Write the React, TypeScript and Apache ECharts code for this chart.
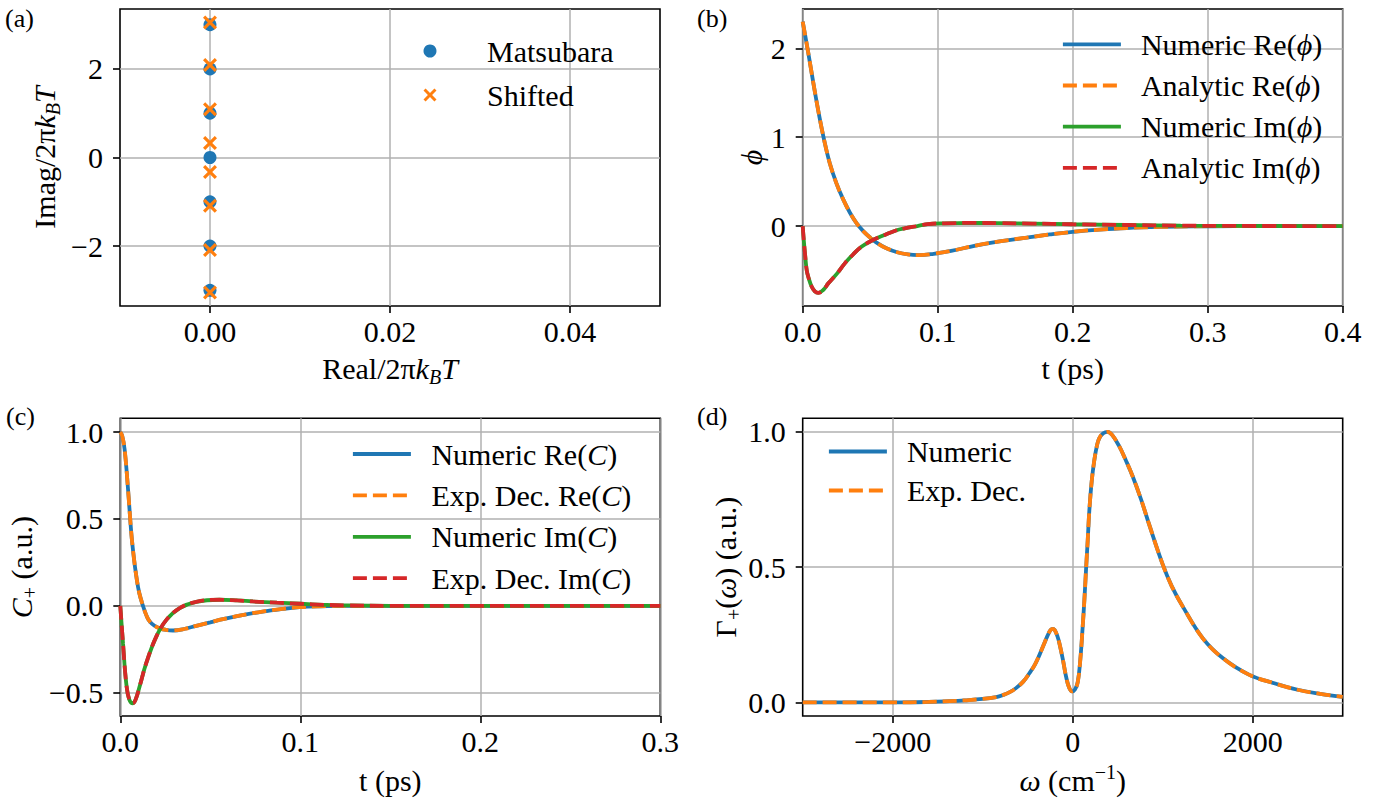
import React, { useEffect, useRef } from 'react';
import * as echarts from 'echarts';

const FONT = 'Liberation Serif, DejaVu Serif, Noto Serif, serif';
const FS = 30;
const BLUE = '#1f77b4';
const ORANGE = '#ff7f0e';
const GREEN = '#2ca02c';
const RED = '#d62728';

// (a) poles of the bath correlation function
const poleReal = 0;
const matsubaraImag = [-3, -2, -1, 0, 1, 2, 3];
const shiftedImag = [-3.05, -2.09, -1.09, -0.33, 0.33, 1.09, 2.09, 3.05];

// (b) phi(t)
const phiReT = [0, 0.004, 0.008, 0.012, 0.016, 0.02, 0.025, 0.03, 0.035, 0.04, 0.045, 0.05, 0.055, 0.062, 0.07, 0.078, 0.086, 0.097, 0.11, 0.128, 0.147, 0.166, 0.183, 0.2, 0.22, 0.24, 0.265, 0.29, 0.32, 0.4];
const phiReV = [2.3, 1.96, 1.6, 1.26, 0.96, 0.71, 0.48, 0.3, 0.15, 0.03, -0.06, -0.13, -0.19, -0.25, -0.295, -0.32, -0.327, -0.312, -0.28, -0.22, -0.17, -0.13, -0.095, -0.065, -0.04, -0.022, -0.01, -0.004, 0, 0];
const phiImT = [0, 0.0008, 0.0017, 0.003, 0.0045, 0.0066, 0.009, 0.0115, 0.0152, 0.019, 0.0257, 0.0312, 0.0373, 0.0435, 0.051, 0.0607, 0.069, 0.0755, 0.085, 0.0926, 0.105, 0.125, 0.145, 0.17, 0.2, 0.24, 0.28, 0.32, 0.4];
const phiImV = [0, -0.16, -0.31, -0.5, -0.59, -0.68, -0.735, -0.752, -0.72, -0.645, -0.53, -0.42, -0.32, -0.233, -0.165, -0.1, -0.05, -0.026, 0, 0.022, 0.031, 0.035, 0.033, 0.028, 0.02, 0.012, 0.005, 0.001, 0];

// (c) C+(t)
const cReT = [0, 0.001, 0.0024, 0.0043, 0.0061, 0.0075, 0.0089, 0.0105, 0.0126, 0.0145, 0.0163, 0.019, 0.0219, 0.0255, 0.0293, 0.036, 0.0422, 0.05, 0.057, 0.067, 0.079, 0.09, 0.0996, 0.11, 0.125, 0.3];
const cReV = [1.0, 0.98, 0.9, 0.67, 0.42, 0.28, 0.17, 0.075, 0, -0.055, -0.09, -0.115, -0.13, -0.139, -0.142, -0.132, -0.115, -0.095, -0.077, -0.055, -0.033, -0.018, -0.008, -0.003, 0, 0];
const cImT = [0, 0.0015, 0.0033, 0.005, 0.007, 0.0085, 0.0107, 0.0144, 0.02, 0.0256, 0.033, 0.0422, 0.055, 0.065, 0.0737, 0.087, 0.1, 0.113, 0.126, 0.15, 0.3];
const cImV = [0, -0.215, -0.446, -0.54, -0.561, -0.54, -0.465, -0.33, -0.177, -0.081, -0.013, 0.023, 0.035, 0.031, 0.025, 0.018, 0.012, 0.006, 0.002, 0, 0];

// (d) Gamma+(omega)
const gammaW = [-3000, -2000, -1600, -1370, -1200, -1000, -850, -778, -700, -630, -550, -481, -420, -370, -320, -278, -245, -222, -200, -170, -148, -110, -74, -40, -7, 25, 56, 85, 111, 130, 148, 167, 185, 212, 241, 270, 296, 340, 389, 440, 518, 590, 667, 760, 852, 1000, 1100, 1222, 1444, 1667, 1963, 2250, 2500, 2750, 3000];
const gammaV = [0, 0, 0.002, 0.005, 0.008, 0.013, 0.02, 0.027, 0.038, 0.053, 0.077, 0.108, 0.14, 0.175, 0.215, 0.248, 0.268, 0.272, 0.268, 0.245, 0.219, 0.16, 0.096, 0.055, 0.041, 0.048, 0.075, 0.16, 0.28, 0.38, 0.49, 0.6, 0.71, 0.82, 0.897, 0.95, 0.977, 0.995, 1.0, 0.988, 0.946, 0.895, 0.835, 0.75, 0.655, 0.51, 0.43, 0.355, 0.238, 0.164, 0.102, 0.07, 0.047, 0.032, 0.021];

// tick values
const ticksAx = [0, 0.02, 0.04];
const ticksAy = [-2, 0, 2];
const ticksBx = [0, 0.1, 0.2, 0.3, 0.4];
const ticksBy = [0, 1, 2];
const ticksCx = [0, 0.1, 0.2, 0.3];
const ticksCy = [-0.5, 0, 0.5, 1.0];
const ticksDx = [-2000, 0, 2000];
const ticksDy = [0, 0.5, 1.0];

const zip = (xs: number[], ys: number[]) => xs.map((x, i) => [x, ys[i]]);

const fmt = (dec: number) => (v: number) => {
  const s = Math.abs(v).toFixed(dec);
  return (v < -1e-12 ? '\u2212' : '') + s;
};

const rich = {
  i: { fontStyle: 'italic', fontFamily: FONT, fontSize: FS, lineHeight: 30, color: '#000' },
  sub: { fontFamily: FONT, fontSize: 20, height: 12, verticalAlign: 'bottom', color: '#000' },
  isub: { fontFamily: FONT, fontStyle: 'italic', fontSize: 20, height: 12, verticalAlign: 'bottom', color: '#000' },
  sup: { fontFamily: FONT, fontSize: 20, height: 14, verticalAlign: 'top', color: '#000' },
};

const nameStyle = { fontFamily: FONT, fontSize: FS, lineHeight: 30, color: '#000', rich };

const common = (ticks: number[], dec: number, margin: number) => ({
  type: 'value',
  axisLine: { show: false, onZero: false },
  axisTick: { show: true, inside: false, length: 7, lineStyle: { color: '#000', width: 1.6 }, customValues: ticks },
  axisLabel: { customValues: ticks, formatter: fmt(dec), fontFamily: FONT, fontSize: FS, color: '#000', margin },
  splitLine: { show: true, lineStyle: { color: '#b0b0b0', width: 1.5 } },
  nameLocation: 'middle',
  nameTextStyle: nameStyle,
});

const mkX = (gi: number, min: number, max: number, ticks: number[], dec: number, name: string, gap: number) => ({
  ...common(ticks, dec, 10), gridIndex: gi, min, max, name, nameGap: gap,
});
const mkY = (gi: number, min: number, max: number, ticks: number[], dec: number, name: string, gap: number) => ({
  ...common(ticks, dec, 17), gridIndex: gi, min, max, name, nameGap: gap,
});

const solid = (name: string, gi: number, data: number[][], color: string) => ({
  type: 'line', name, xAxisIndex: gi, yAxisIndex: gi, data, symbol: 'none', showSymbol: false,
  smooth: 0.4, silent: true, color,
  lineStyle: { width: 3.8, color, type: 'solid' },
  itemStyle: { color },
});
const dashed = (name: string, gi: number, data: number[][], color: string) => ({
  ...solid(name, gi, data, color),
  lineStyle: { width: 3.8, color, type: [14, 6] },
});

const legendText = (pad: number) => ({
  fontFamily: FONT, fontSize: FS, lineHeight: 30, color: '#000', padding: [0, 0, 0, pad],
  rich: { i: { fontStyle: 'italic', fontFamily: FONT, fontSize: FS, lineHeight: 30, color: '#000' } },
});
const legendFmt = (n: string) => n.replace('\u03d5', '{i|\u03d5}').replace('(C)', '({i|C})');

const crossPath = 'path://M0,16L16,0L50,34L84,0L100,16L66,50L100,84L84,100L50,66L16,100L0,84L34,50Z';

const grids = [
  { left: 120, top: 9, width: 540, height: 297 },
  { left: 802.7, top: 9, width: 540, height: 297 },
  { left: 120.3, top: 418.3, width: 540, height: 297.7 },
  { left: 802.7, top: 418.3, width: 540, height: 297.7 },
].map((g) => ({ ...g, show: true, borderColor: '#000', borderWidth: 1.6, backgroundColor: 'transparent', containLabel: false, outerBoundsMode: 'none' }));

const lineLegend = { itemStyle: { opacity: 0 }, lineStyle: { width: 3.8 } };

const option = {
  animation: false,
  backgroundColor: '#fff',
  textStyle: { fontFamily: FONT },
  grid: grids,
  xAxis: [
    mkX(0, -0.01, 0.05, ticksAx, 2, 'Real/2\u03c0{i|k}{isub|B}{i|T}', 47),
    mkX(1, 0, 0.4, ticksBx, 1, 't (ps)', 47),
    mkX(2, 0, 0.3, ticksCx, 1, 't (ps)', 49),
    mkX(3, -3000, 3000, ticksDx, 0, '{i|\u03c9} (cm{sup|\u22121})', 49),
  ],
  yAxis: [
    mkY(0, -3.355, 3.355, ticksAy, 0, 'Imag/2\u03c0{i|k}{isub|B}{i|T}', 61),
    mkY(1, -0.9, 2.443, ticksBy, 0, '{i|\u03d5}', 35),
    mkY(2, -0.634, 1.079, ticksCy, 1, '{i|C}{sub|+} (a.u.)', 84),
    mkY(3, -0.05, 1.05, ticksDy, 1, '\u0393{sub|+}({i|\u03c9}) (a.u.)', 59),
  ],
  legend: [
    { data: ['Matsubara', 'Shifted'], left: 423.5, top: 36, itemGap: 14, textStyle: legendText(23), itemHeight: 13, itemStyle: { opacity: 1 } },
    { data: ['Numeric Re(\u03d5)', 'Analytic Re(\u03d5)', 'Numeric Im(\u03d5)', 'Analytic Im(\u03d5)'], left: 1061, top: 29.3, itemGap: 11.2, textStyle: legendText(15), itemHeight: 14, ...lineLegend },
    { data: ['Numeric Re(C)', 'Exp. Dec. Re(C)', 'Numeric Im(C)', 'Exp. Dec. Im(C)'], left: 351, top: 439, itemGap: 11.4, textStyle: legendText(15.5), itemHeight: 14, ...lineLegend },
    { data: ['Numeric', 'Exp. Dec.'], left: 827, top: 436.5, itemGap: 9, textStyle: legendText(15), itemHeight: 14, ...lineLegend },
  ].map((l) => ({ ...l, orient: 'vertical', itemWidth: 58, padding: 0, selectedMode: false, formatter: legendFmt, inactiveColor: '#000' })),
  graphic: [
    { type: 'text', left: 5, top: 5, style: { text: '(a)', fontFamily: FONT, fontSize: 26, fill: '#000' } },
    { type: 'text', left: 697, top: 5, style: { text: '(b)', fontFamily: FONT, fontSize: 26, fill: '#000' } },
    { type: 'text', left: 6, top: 403, style: { text: '(c)', fontFamily: FONT, fontSize: 26, fill: '#000' } },
    { type: 'text', left: 697, top: 403, style: { text: '(d)', fontFamily: FONT, fontSize: 26, fill: '#000' } },
  ],
  series: [
    {
      type: 'scatter', name: 'Matsubara', xAxisIndex: 0, yAxisIndex: 0, silent: true,
      data: matsubaraImag.map((y) => [poleReal, y]), symbol: 'circle', symbolSize: 13,
      itemStyle: { color: BLUE, opacity: 1 },
    },
    {
      type: 'scatter', name: 'Shifted', xAxisIndex: 0, yAxisIndex: 0, silent: true,
      data: shiftedImag.map((y) => [poleReal, y]), symbol: crossPath, symbolSize: 14,
      itemStyle: { color: ORANGE, opacity: 1 },
    },
    solid('Numeric Re(\u03d5)', 1, zip(phiReT, phiReV), BLUE),
    dashed('Analytic Re(\u03d5)', 1, zip(phiReT, phiReV), ORANGE),
    solid('Numeric Im(\u03d5)', 1, zip(phiImT, phiImV), GREEN),
    dashed('Analytic Im(\u03d5)', 1, zip(phiImT, phiImV), RED),
    solid('Numeric Re(C)', 2, zip(cReT, cReV), BLUE),
    dashed('Exp. Dec. Re(C)', 2, zip(cReT, cReV), ORANGE),
    solid('Numeric Im(C)', 2, zip(cImT, cImV), GREEN),
    dashed('Exp. Dec. Im(C)', 2, zip(cImT, cImV), RED),
    solid('Numeric', 3, zip(gammaW, gammaV), BLUE),
    dashed('Exp. Dec.', 3, zip(gammaW, gammaV), ORANGE),
  ],
};

export default function App() {
  const ref = useRef<HTMLDivElement>(null);
  useEffect(() => {
    document.body.style.margin = '0';
    const chart = echarts.init(ref.current as HTMLDivElement, null, { renderer: 'svg' });
    chart.setOption(option as any);
    return () => chart.dispose();
  }, []);
  return <div ref={ref} style={{ width: 1399, height: 800 }} />;
}
